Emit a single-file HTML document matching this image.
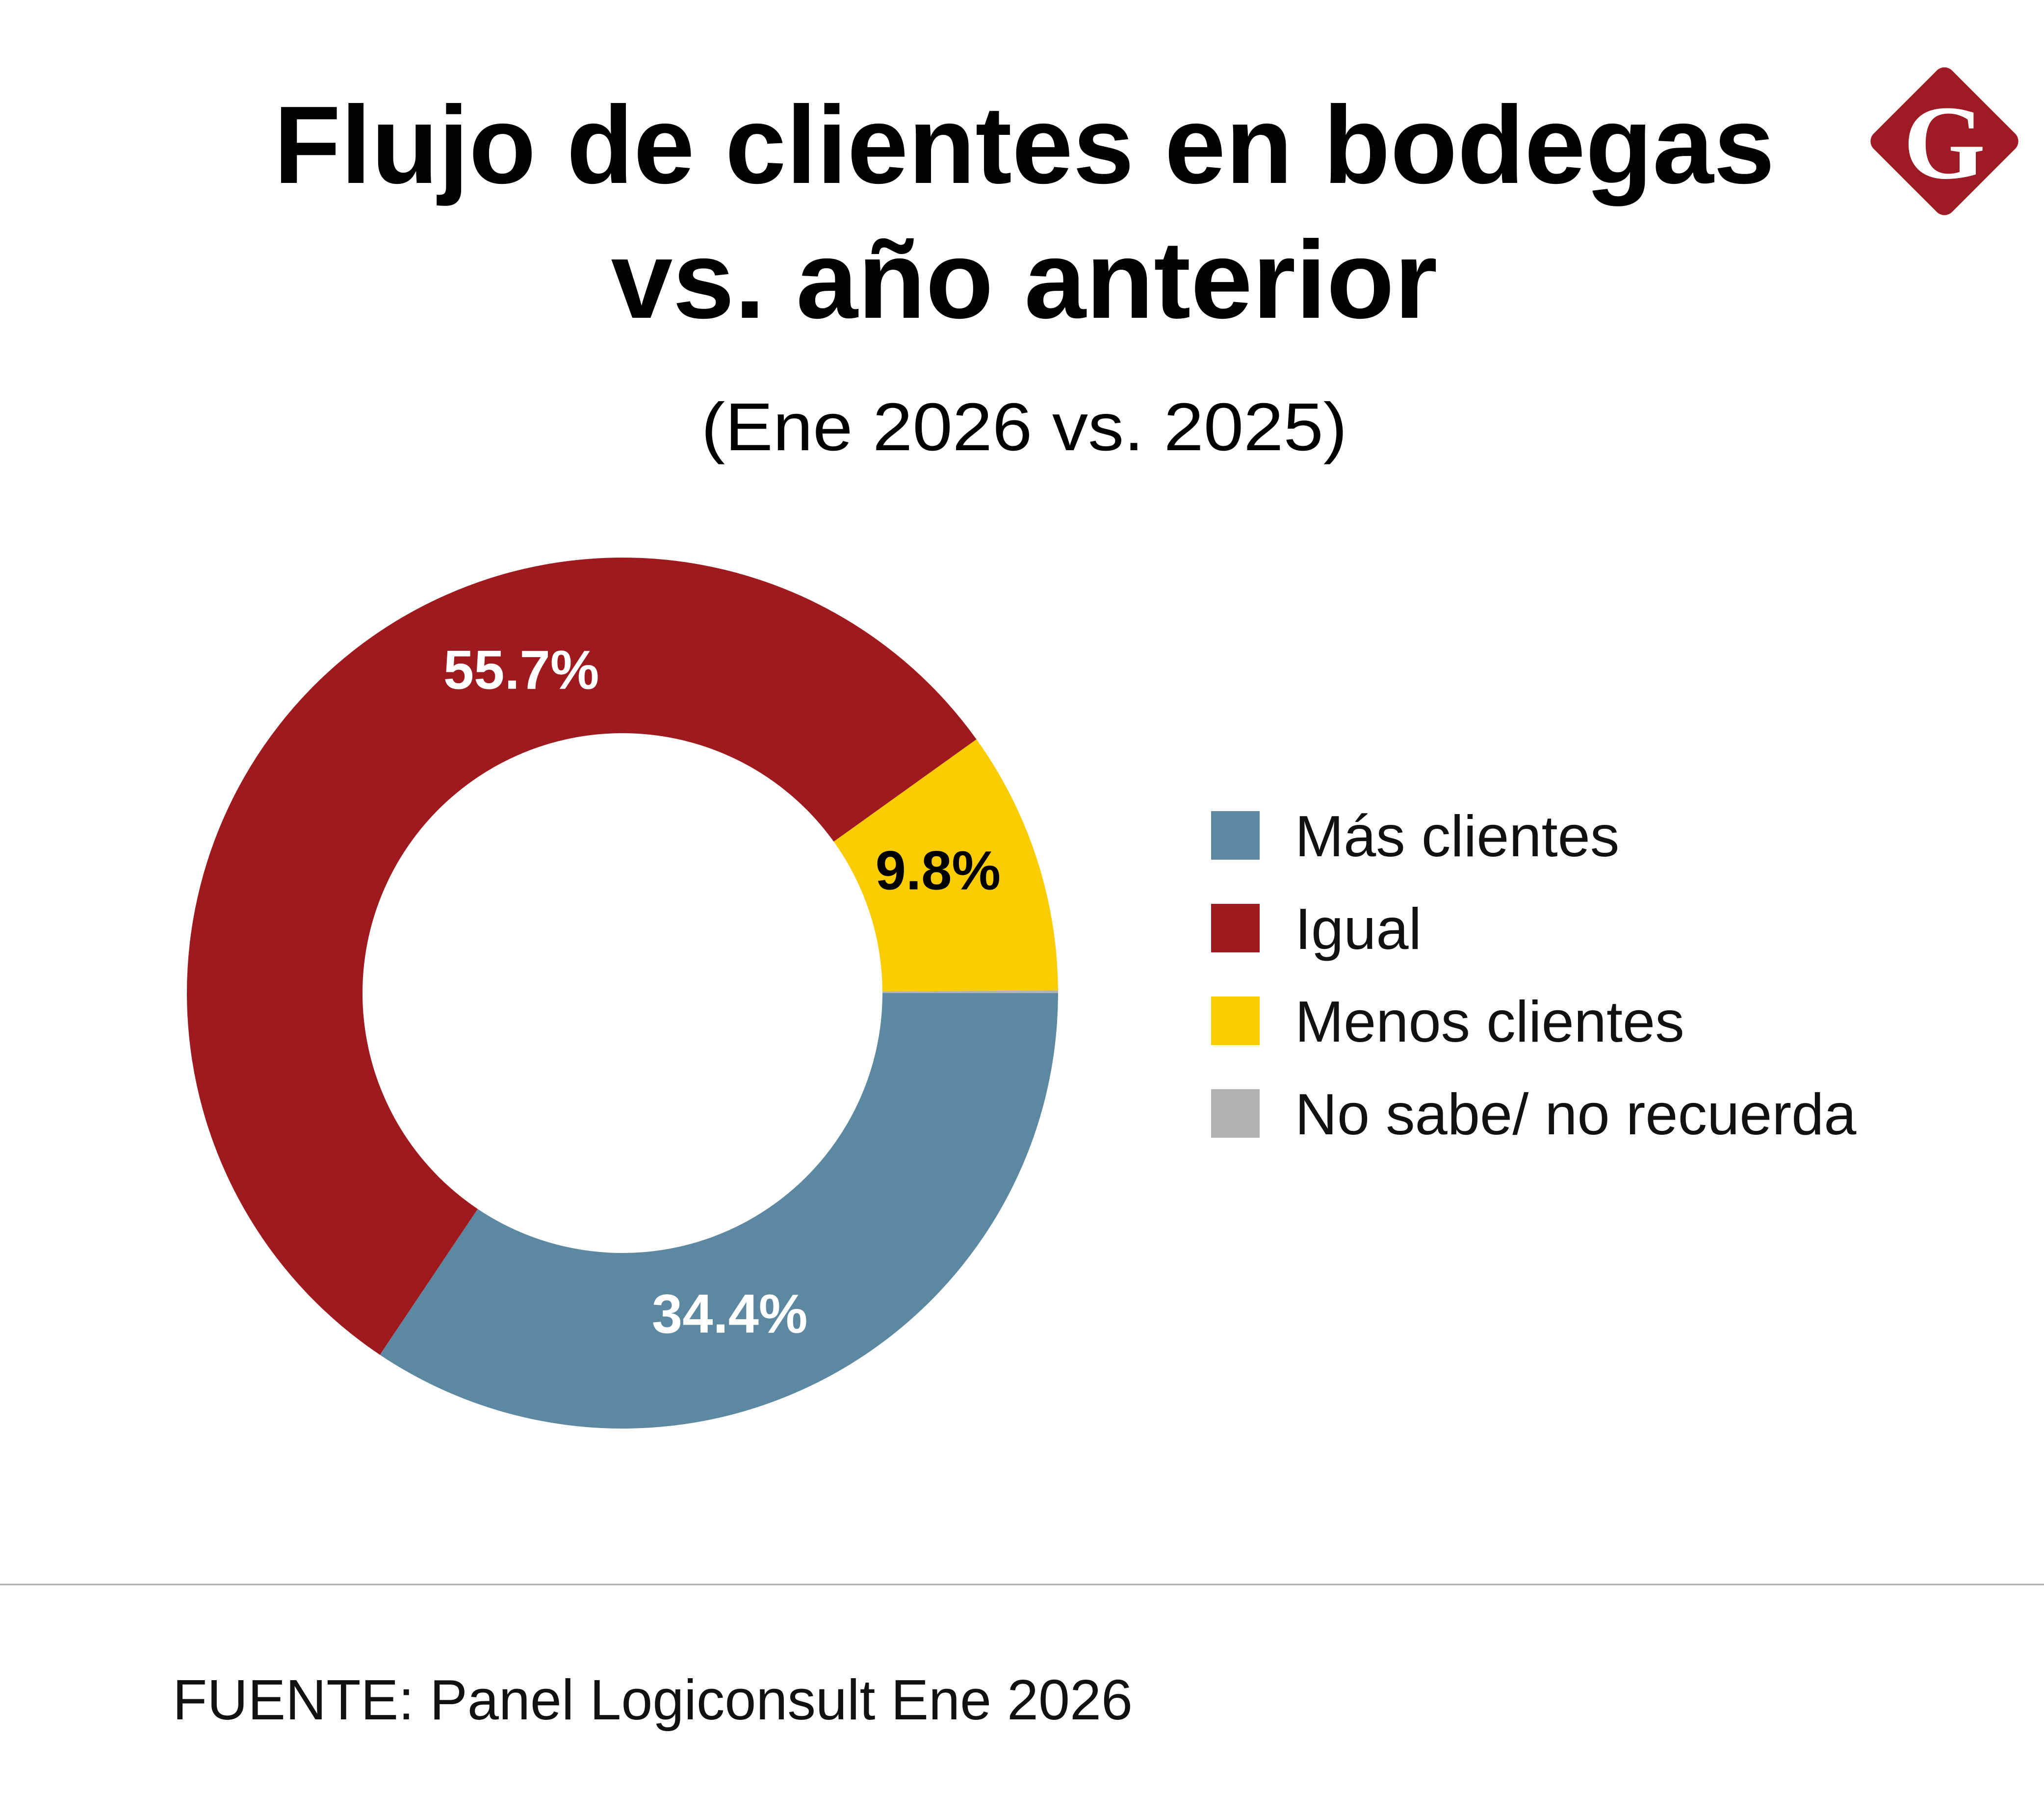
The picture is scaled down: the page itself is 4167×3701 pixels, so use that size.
<!DOCTYPE html>
<html><head><meta charset="utf-8"><style>
html,body{margin:0;padding:0;background:#fff;}
svg{display:block;}
</style></head><body>
<svg id="chart" width="4167" height="3701" viewBox="0 0 4167 3701" xmlns="http://www.w3.org/2000/svg">
<rect width="4167" height="3701" fill="#fff"/>
<text x="2088" y="373" text-anchor="middle" font-family="Liberation Sans, sans-serif" font-weight="bold" font-size="225" textLength="3060" lengthAdjust="spacingAndGlyphs" fill="#000">Flujo de clientes en bodegas</text>
<text x="2088" y="648" text-anchor="middle" font-family="Liberation Sans, sans-serif" font-weight="bold" font-size="225" textLength="1685" lengthAdjust="spacingAndGlyphs" fill="#000">vs. año anterior</text>
<text x="2088" y="918" text-anchor="middle" font-family="Liberation Sans, sans-serif" font-size="138" textLength="1317" lengthAdjust="spacingAndGlyphs" fill="#000">(Ene 2026 vs. 2025)</text>
<g>
<rect x="3851" y="175" width="226" height="226" rx="22" transform="rotate(45 3964 288)" fill="#9e1a24"/>
<text x="3964" y="363" text-anchor="middle" font-family="Liberation Serif, serif" font-weight="bold" font-size="215" fill="#fff">G</text>
</g>
<g id="slices"></g>
<g id="labels"></g>
<g id="legend"></g>
<line x1="0" y1="3231" x2="4167" y2="3231" stroke="#aaaaaa" stroke-width="3"/>
<text x="352" y="3506" font-family="Liberation Sans, sans-serif" font-size="116" textLength="1957" lengthAdjust="spacingAndGlyphs" fill="#111">FUENTE: Panel Logiconsult Ene 2026</text>
</svg>
<script>
const categories = ["Más clientes", "Igual", "Menos clientes", "No sabe/ no recuerda"];
const values = [34.4, 55.7, 9.8, 0.1];
const valueLabels = ["34.4%", "55.7%", "9.8%", ""];
const colors = ["#5d88a2", "#9e1a1f", "#fccc02", "#b3b3b3"];
const labelColors = ["#fff", "#fff", "#000", "#000"];

const NS = "http://www.w3.org/2000/svg";
const cx = 1269, cy = 2025, R = 888, r = 530;
const labelShiftDeg = [9.6, 28.5, -3.2, 0];
const total = values.reduce((a, b) => a + b, 0);
function angleOf(v) { return v / total * Math.PI * 2; }
function pt(rad, a) { return [cx + rad * Math.cos(a), cy + rad * Math.sin(a)]; }
const slicesG = document.getElementById('slices');
const labelsG = document.getElementById('labels');
let a0 = 0;
values.forEach((v, i) => {
  const a1 = a0 + angleOf(v);
  const large = (a1 - a0) > Math.PI ? 1 : 0;
  const p1 = pt(R, a0), p2 = pt(R, a1), p3 = pt(r, a1), p4 = pt(r, a0);
  const path = document.createElementNS(NS, 'path');
  path.setAttribute('d', `M${p1[0]},${p1[1]} A${R},${R} 0 ${large} 1 ${p2[0]},${p2[1]} L${p3[0]},${p3[1]} A${r},${r} 0 ${large} 0 ${p4[0]},${p4[1]} Z`);
  path.setAttribute('fill', colors[i]);
  
  
  slicesG.appendChild(path);
  if (valueLabels[i]) {
    const mid = (a0 + a1) / 2 + labelShiftDeg[i] * Math.PI / 180;
    const lp = pt(690, mid);
    const t = document.createElementNS(NS, 'text');
    t.setAttribute('x', lp[0]);
    t.setAttribute('y', lp[1] + 38);
    t.setAttribute('text-anchor', 'middle');
    t.setAttribute('font-family', 'Liberation Sans, sans-serif');
    t.setAttribute('font-weight', 'bold');
    t.setAttribute('font-size', '112');
    t.setAttribute('fill', labelColors[i]);
    t.textContent = valueLabels[i];
    
    
    labelsG.appendChild(t);
  }
  a0 = a1;
});
const legendG = document.getElementById('legend');
categories.forEach((c, i) => {
  const y = 1706 + i * 189;
  const sw = document.createElementNS(NS, 'rect');
  sw.setAttribute('x', 2469); sw.setAttribute('y', y - 52);
  sw.setAttribute('width', 99); sw.setAttribute('height', 99);
  sw.setAttribute('fill', colors[i]);
  
  
  legendG.appendChild(sw);
  const t = document.createElementNS(NS, 'text');
  t.setAttribute('x', 2640); t.setAttribute('y', y + 40);
  t.setAttribute('font-family', 'Liberation Sans, sans-serif');
  t.setAttribute('font-size', '119');
  t.setAttribute('fill', '#111');
  t.textContent = c;
  
  
  legendG.appendChild(t);
});
</script>
</body></html>
